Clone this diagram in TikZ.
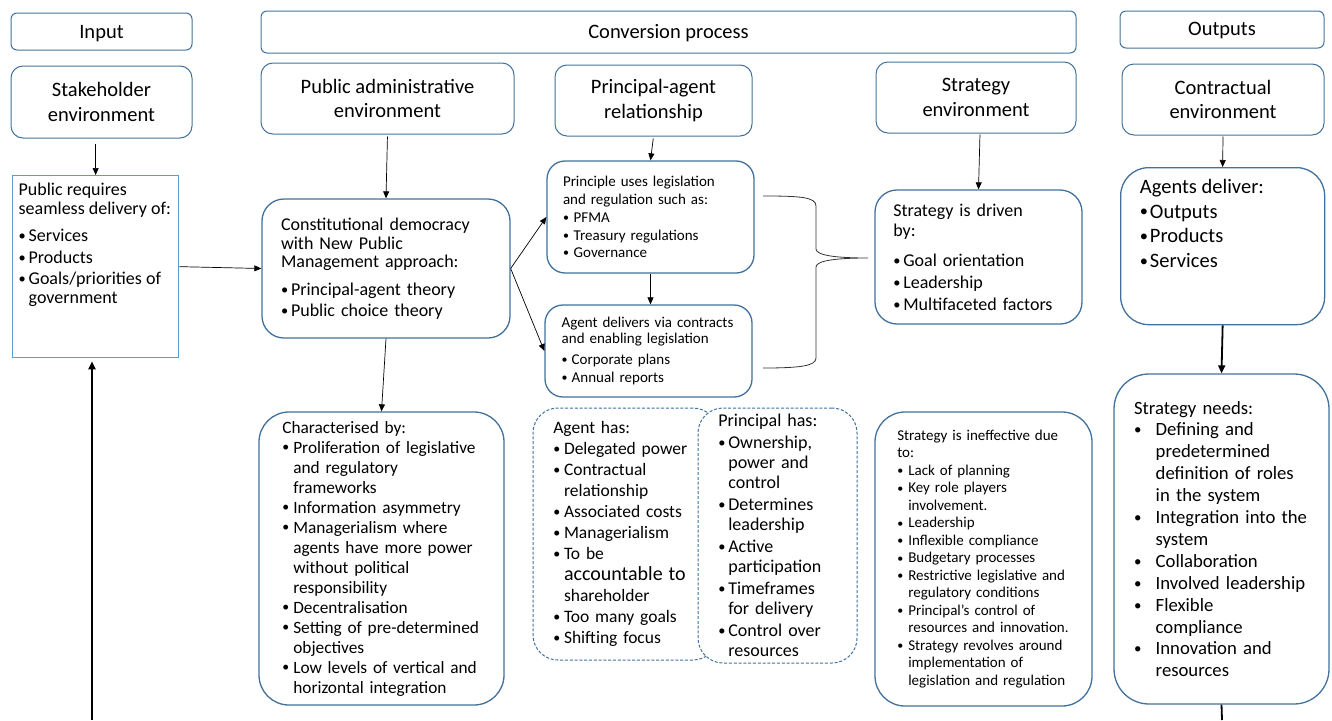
\documentclass[tikz,border=0pt]{standalone}
\usepackage{fontspec}
\setmainfont{Carlito}
\usepackage{graphicx}
\usepackage{enumitem}
\usetikzlibrary{arrows.meta}

\definecolor{edgeblue}{RGB}{65,113,156}
\definecolor{lightedge}{RGB}{91,155,213}
\setlength{\parskip}{0pt}
\newcommand{\smallbullet}{\raisebox{0.06em}{\scalebox{0.8}{\textbullet}}}
\setlist[itemize]{label=\smallbullet, align=left, labelsep=0pt, leftmargin=10pt, labelwidth=10pt,
  topsep=0pt, partopsep=0pt, parsep=0pt, itemsep=0pt}
\newcommand{\setfs}[2]{\fontsize{#1}{#2}\selectfont}

\begin{document}
\begin{tikzpicture}[x=1pt, y=-1pt,
    head/.style={draw=edgeblue, line width=1pt, rounded corners=6pt, align=center,
      inner sep=0pt, font=\setfs{20.5}{24.5}},
    card/.style={draw=edgeblue, line width=1.3pt, fill=white, inner ysep=0pt, align=left},
    dashcard/.style={card, dash pattern=on 3pt off 1.8pt, line width=1pt},
    arr/.style={-{Triangle[length=7pt,width=6pt]}, line width=0.7pt},
    thickarr/.style={-{Triangle[length=8pt,width=7pt]}, line width=1.8pt}]
  \useasboundingbox (0,0) rectangle (1332,720);

  % top row
  \node[head, minimum width=181pt, minimum height=37pt, text height=14pt, text depth=0pt] (inp) at (101.5,31.5) {Input};
  \node[head, minimum width=815pt, minimum height=42pt, text height=13pt, text depth=0pt] (conv) at (668.5,32) {Conversion process};
  \node[head, minimum width=204pt, minimum height=37pt, text height=12pt, text depth=0pt] (outp) at (1222,29.5) {Outputs};

  \node[head, rounded corners=12pt, minimum width=181pt, minimum height=72pt] (stk) at (101.5,102) {Stakeholder\\environment};
  \node[head, rounded corners=12pt, minimum width=253pt, minimum height=71pt] (pad) at (387.5,98.5) {Public administrative\\environment};
  \node[head, rounded corners=12pt, minimum width=197pt, minimum height=71pt] (pa) at (653.5,100.5) {Principal-agent\\relationship};
  \node[head, rounded corners=12pt, minimum width=200pt, minimum height=71pt] (se) at (976,97.5) {Strategy\\environment};
  \node[head, rounded corners=12pt, minimum width=202pt, minimum height=71pt] (ce) at (1223,99.5) {Contractual\\environment};

  % middle row
  \node[card, draw=lightedge, anchor=north west, inner xsep=6pt, inner ysep=7pt, font=\setfs{18}{19}] (pubreq) at (12,175)
    {\begin{minipage}[c][168pt][t]{154pt}\raggedright
     Public requires\\ seamless delivery of:\par\vspace{8.3pt}
     \begin{itemize}[itemsep=2.7pt]
       \item Services
       \item Products
       \item Goals/priorities of\\ government
     \end{itemize}\end{minipage}};

  \node[card, rounded corners=22pt, minimum width=248pt, minimum height=139pt, text width=210pt,
    inner xsep=19pt, font=\setfs{18}{18.7}] (cdbox) at (386,268.5)
    {Constitutional democracy\\ with New Public\\ Management approach:\par\vspace{8.7pt}
     \begin{itemize}[itemsep=2.3pt]
       \item Principal-agent theory
       \item Public choice theory
     \end{itemize}};

  \node[card, rounded corners=18pt, minimum width=207pt, minimum height=112pt, text width=175pt,
    inner xsep=16pt, font=\setfs{15}{17.5}] (puse) at (650.5,217)
    {Principle uses legislation\\ and regulation such as:\par\vspace{0.9pt}
     \begin{itemize}[leftmargin=10.7pt, labelwidth=10.7pt]
       \item PFMA
       \item Treasury regulations
       \item Governance
     \end{itemize}};

  \node[card, rounded corners=18pt, minimum width=207pt, minimum height=92pt, text width=173.6pt,
    inner xsep=16.7pt, font=\setfs{15}{16.2}] (adel) at (648.5,351)
    {Agent delivers via contracts\\ and enabling legislation\par\vspace{4.4pt}
     \begin{itemize}[itemsep=2.2pt]
       \item Corporate plans
       \item Annual reports
     \end{itemize}};

  \node[card, rounded corners=22pt, minimum width=207pt, minimum height=134pt, text width=170.4pt,
    inner xsep=18.3pt, font=\setfs{18}{20.6}] (sdrv) at (978.5,257)
    {Strategy is driven\\ by:\par\vspace{8.8pt}
     \begin{itemize}[itemsep=1.4pt]
       \item Goal orientation
       \item Leadership
       \item Multifaceted factors
     \end{itemize}};

  \node[card, rounded corners=28pt, anchor=north west, inner xsep=19.3pt, inner ysep=12pt, font=\setfs{20.5}{24.3}] (adlv) at (1120,167)
    {\begin{minipage}[c][133pt][t]{165.4pt}\raggedright
     Agents deliver:
     \begin{itemize}[itemsep=0.5pt]
       \item Outputs
       \item Products
       \item Services
     \end{itemize}\end{minipage}};

  % bottom row
  \node[card, rounded corners=30pt, minimum width=245pt, minimum height=293pt, text width=198.4pt,
    inner xsep=23.3pt, font=\setfs{17.3}{20}] (chr) at (381.5,558.5)
    {Characterised by:
     \begin{itemize}[leftmargin=11pt, labelwidth=11pt]
       \item Proliferation of legislative\\ and regulatory\\ frameworks
       \item Information asymmetry
       \item Managerialism where\\ agents have more power\\ without political\\ responsibility
       \item Decentralisation
       \item Setting of pre-determined\\ objectives
       \item Low levels of vertical and\\ horizontal integration
     \end{itemize}};

  \node[dashcard, rounded corners=25pt, minimum width=185pt, minimum height=252pt, text width=144.4pt,
    inner xsep=20.3pt, font=\setfs{17.5}{21}] (ahas) at (625.5,534)
    {Agent has:\par\vspace{0.6pt}
     \begin{itemize}[leftmargin=10.7pt, labelwidth=10.7pt]
       \item Delegated power
       \item Contractual\\ relationship
       \item Associated costs
       \item Managerialism
       \item To be\\ {\setfs{20}{21}accountable to}\\ shareholder
       \item Too many goals
       \item Shifting focus
     \end{itemize}};

  \node[dashcard, rounded corners=25pt, minimum width=159pt, minimum height=255pt, text width=118.4pt,
    inner xsep=20.3pt, font=\setfs{18}{20}] (phas) at (777.5,535.5)
    {Principal has:\par\vspace{2.5pt}
     \begin{itemize}[itemsep=2pt]
       \item Ownership,\\ power and\\ control
       \item Determines\\ leadership
       \item Active\\ participation
       \item Timeframes\\ for delivery
       \item Control over\\ resources
     \end{itemize}};

  \node[card, rounded corners=30pt, minimum width=217pt, minimum height=294pt, text width=172.4pt,
    inner xsep=22.3pt, font=\setfs{15}{17.5}] (sinf) at (983.5,559)
    {Strategy is ineffective due\\ to:
     \begin{itemize}[leftmargin=11pt, labelwidth=11pt]
       \item Lack of planning
       \item Key role players\\ involvement.
       \item Leadership
       \item Inflexible compliance
       \item Budgetary processes
       \item Restrictive legislative and\\ regulatory conditions
       \item Principal’s control of\\ resources and innovation.
       \item Strategy revolves around\\ implementation of\\ legislation and regulation
     \end{itemize}};

  \node[card, rounded corners=35pt, minimum width=215pt, minimum height=330pt, text width=175pt,
    inner xsep=20pt, font=\setfs{18.7}{21.9}] (sned) at (1221.5,539)
    {Strategy needs:
     \begin{itemize}[leftmargin=21.7pt, labelwidth=21.7pt]
       \item Defining and\\ predetermined\\ definition of roles\\ in the system
       \item Integration into the\\ system
       \item Collaboration
       \item Involved leadership
       \item Flexible\\ compliance
       \item Innovation and\\ resources
     \end{itemize}};

  % connectors
  \coordinate (inbot) at (92,720);
  \coordinate (outbot) at (1222,720);
  \draw[arr, shorten <=5pt] (stk.south -| pubreq.north) -- (pubreq.north);
  \draw[thickarr, shorten >=3pt] (inbot) -- (inbot |- pubreq.south);
  \draw[arr] (pubreq.east) -- (cdbox.west);
  \draw[arr, shorten <=2pt] (pad.south) -- (cdbox.north);
  \draw[arr] (cdbox.south) -- (chr.north);
  \draw[arr] (cdbox.east) -- (puse.west);
  \draw[arr] (cdbox.east) -- (adel.west);
  \draw[arr, shorten <=2pt] (pa.south) -- (puse.north);
  \draw[arr] (puse.south) -- (puse.south |- adel.north);
  \draw[arr, shorten <=1pt] ([xshift=4pt]se.south) -- (sdrv.north);
  \draw[arr, shorten <=1pt] (ce.south) -- (adlv.north);
  \draw[thickarr] (adlv.south) -- (sned.north);
  \draw[line width=1.8pt] (sned.south) -- (outbot);

  % brace
  \coordinate (brtop) at (763,196);
  \coordinate (brbot) at (763,368);
  \coordinate (brtip) at (868,258);
  \draw[line width=0.8pt, black!80] (brtop) .. controls (800,196) and (816,197) .. (816,206)
    -- (816,249) .. controls (816,256) and (840,258) .. (brtip)
    .. controls (840,258) and (816,260) .. (816,267)
    -- (816,358) .. controls (816,366) and (800,368) .. (brbot);
\end{tikzpicture}
\end{document}
